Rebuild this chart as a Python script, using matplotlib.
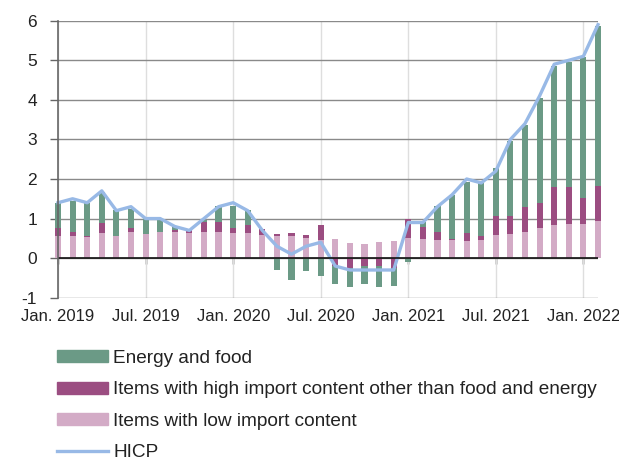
import numpy as np
import matplotlib
matplotlib.use('Agg')
import matplotlib.pyplot as plt
from matplotlib.patches import Patch
from matplotlib.lines import Line2D

plt.rcParams['font.family'] = ['Liberation Sans', 'DejaVu Sans']
plt.rcParams['axes.unicode_minus'] = False

# Monthly contributions, Jan. 2019 - Feb. 2022 (percentage points)
low_import = [0.57, 0.57, 0.54, 0.63, 0.57, 0.65, 0.61, 0.65, 0.65, 0.63, 0.65, 0.65,
              0.63, 0.63, 0.59, 0.55, 0.55, 0.52, 0.46, 0.48, 0.39, 0.36, 0.42, 0.44,
              0.50, 0.49, 0.46, 0.46, 0.44, 0.46, 0.59, 0.61, 0.66, 0.76, 0.83, 0.87,
              0.87, 0.93]
high_import = [0.20, 0.10, 0.01, 0.27, 0.00, 0.12, 0.00, 0.02, 0.06, 0.08, 0.26, 0.26,
               0.12, 0.21, 0.14, 0.06, 0.09, 0.07, 0.38, -0.21, -0.25, -0.21, -0.21, -0.25,
               0.50, 0.29, 0.19, 0.03, 0.19, 0.11, 0.48, 0.46, 0.62, 0.64, 0.96, 0.92,
               0.66, 0.90]
energy_food = [0.62, 0.78, 0.85, 0.78, 0.65, 0.48, 0.40, 0.31, 0.11, -0.03, 0.05, 0.41,
               0.57, 0.38, 0.00, -0.30, -0.55, -0.32, -0.45, -0.44, -0.47, -0.44, -0.51, -0.45,
               -0.10, 0.14, 0.67, 1.11, 1.30, 1.32, 1.20, 1.89, 2.09, 2.64, 3.07, 3.16,
               3.56, 4.04]
hicp = [1.4, 1.5, 1.4, 1.7, 1.2, 1.3, 1.0, 1.0, 0.8, 0.7, 1.0, 1.3,
        1.4, 1.2, 0.7, 0.3, 0.1, 0.3, 0.4, -0.2, -0.3, -0.3, -0.3, -0.3,
        0.9, 0.9, 1.3, 1.6, 2.0, 1.9, 2.2, 3.0, 3.4, 4.1, 4.9, 5.0,
        5.1, 5.9]
tick_labels = ['Jan. 2019', 'Jul. 2019', 'Jan. 2020', 'Jul. 2020',
               'Jan. 2021', 'Jul. 2021', 'Jan. 2022']

GREEN = '#6b9a86'
PURPLE = '#9b4d81'
PINK = '#d3abc6'
BLUE = '#98b9e6'

x = np.arange(len(hicp))
fig = plt.figure(figsize=(6.19, 4.61), dpi=100)
ax = fig.add_axes([58 / 619, 163.3 / 461, 540 / 619, 277 / 461])

# diverging stack: positives up from zero, negatives down from zero
pos = np.zeros(len(x))
neg = np.zeros(len(x))
for vals, col in [(low_import, PINK), (high_import, PURPLE), (energy_food, GREEN)]:
    v = np.array(vals)
    bottom = np.where(v >= 0, pos, neg)
    ax.bar(x, v, width=0.42, bottom=bottom, color=col, zorder=3, clip_on=False)
    pos += np.where(v >= 0, v, 0)
    neg += np.where(v < 0, v, 0)

ax.plot(x, hicp, color=BLUE, lw=2.4, zorder=4, clip_on=False,
        solid_joinstyle='round')

ax.set_xlim(0, 37)
ax.set_ylim(-1, 6)
ax.set_yticks(range(-1, 7))
ax.set_xticks(x[::6])
ax.set_xticklabels(tick_labels)
ax.tick_params(axis='x', length=0, pad=8, labelsize=12, colors='#222222')
ax.tick_params(axis='y', length=6, width=1, color='#666666', labelsize=12.5,
               colors='#222222', pad=9)
ax.yaxis.grid(True, color='#8a8a8a', lw=1, zorder=1)
ax.xaxis.grid(True, color='#dedede', lw=1, zorder=1)
ax.axhline(0, color='#111111', lw=1.2, zorder=5)
for s in ['top', 'right', 'bottom']:
    ax.spines[s].set_visible(False)
ax.spines['left'].set_color('#666666')
ax.spines['left'].set_linewidth(1.2)
ax.spines['left'].set_zorder(5)

# small tick marks sitting on the zero line
sec = ax.secondary_xaxis(1 / 7)
sec.set_xticks(x[::6])
sec.set_xticklabels([])
sec.tick_params(length=4, width=1, color='#111111', direction='out')
sec.spines['bottom'].set_visible(False)
sec.spines['top'].set_visible(False)

handles = [Patch(color=GREEN), Patch(color=PURPLE), Patch(color=PINK),
           Line2D([], [], color=BLUE, lw=2.4)]
labels = ['Energy and food',
          'Items with high import content other than food and energy',
          'Items with low import content', 'HICP']
fig.legend(handles, labels, loc='upper left', bbox_to_anchor=(57 / 619, 1 - 350 / 461),
           frameon=False, fontsize=13.7, handlelength=2.7, handleheight=0.6,
           handletextpad=0.25, labelspacing=0.76, borderpad=0, borderaxespad=0,
           labelcolor='#222222')

fig.savefig('out.png', dpi=100)
